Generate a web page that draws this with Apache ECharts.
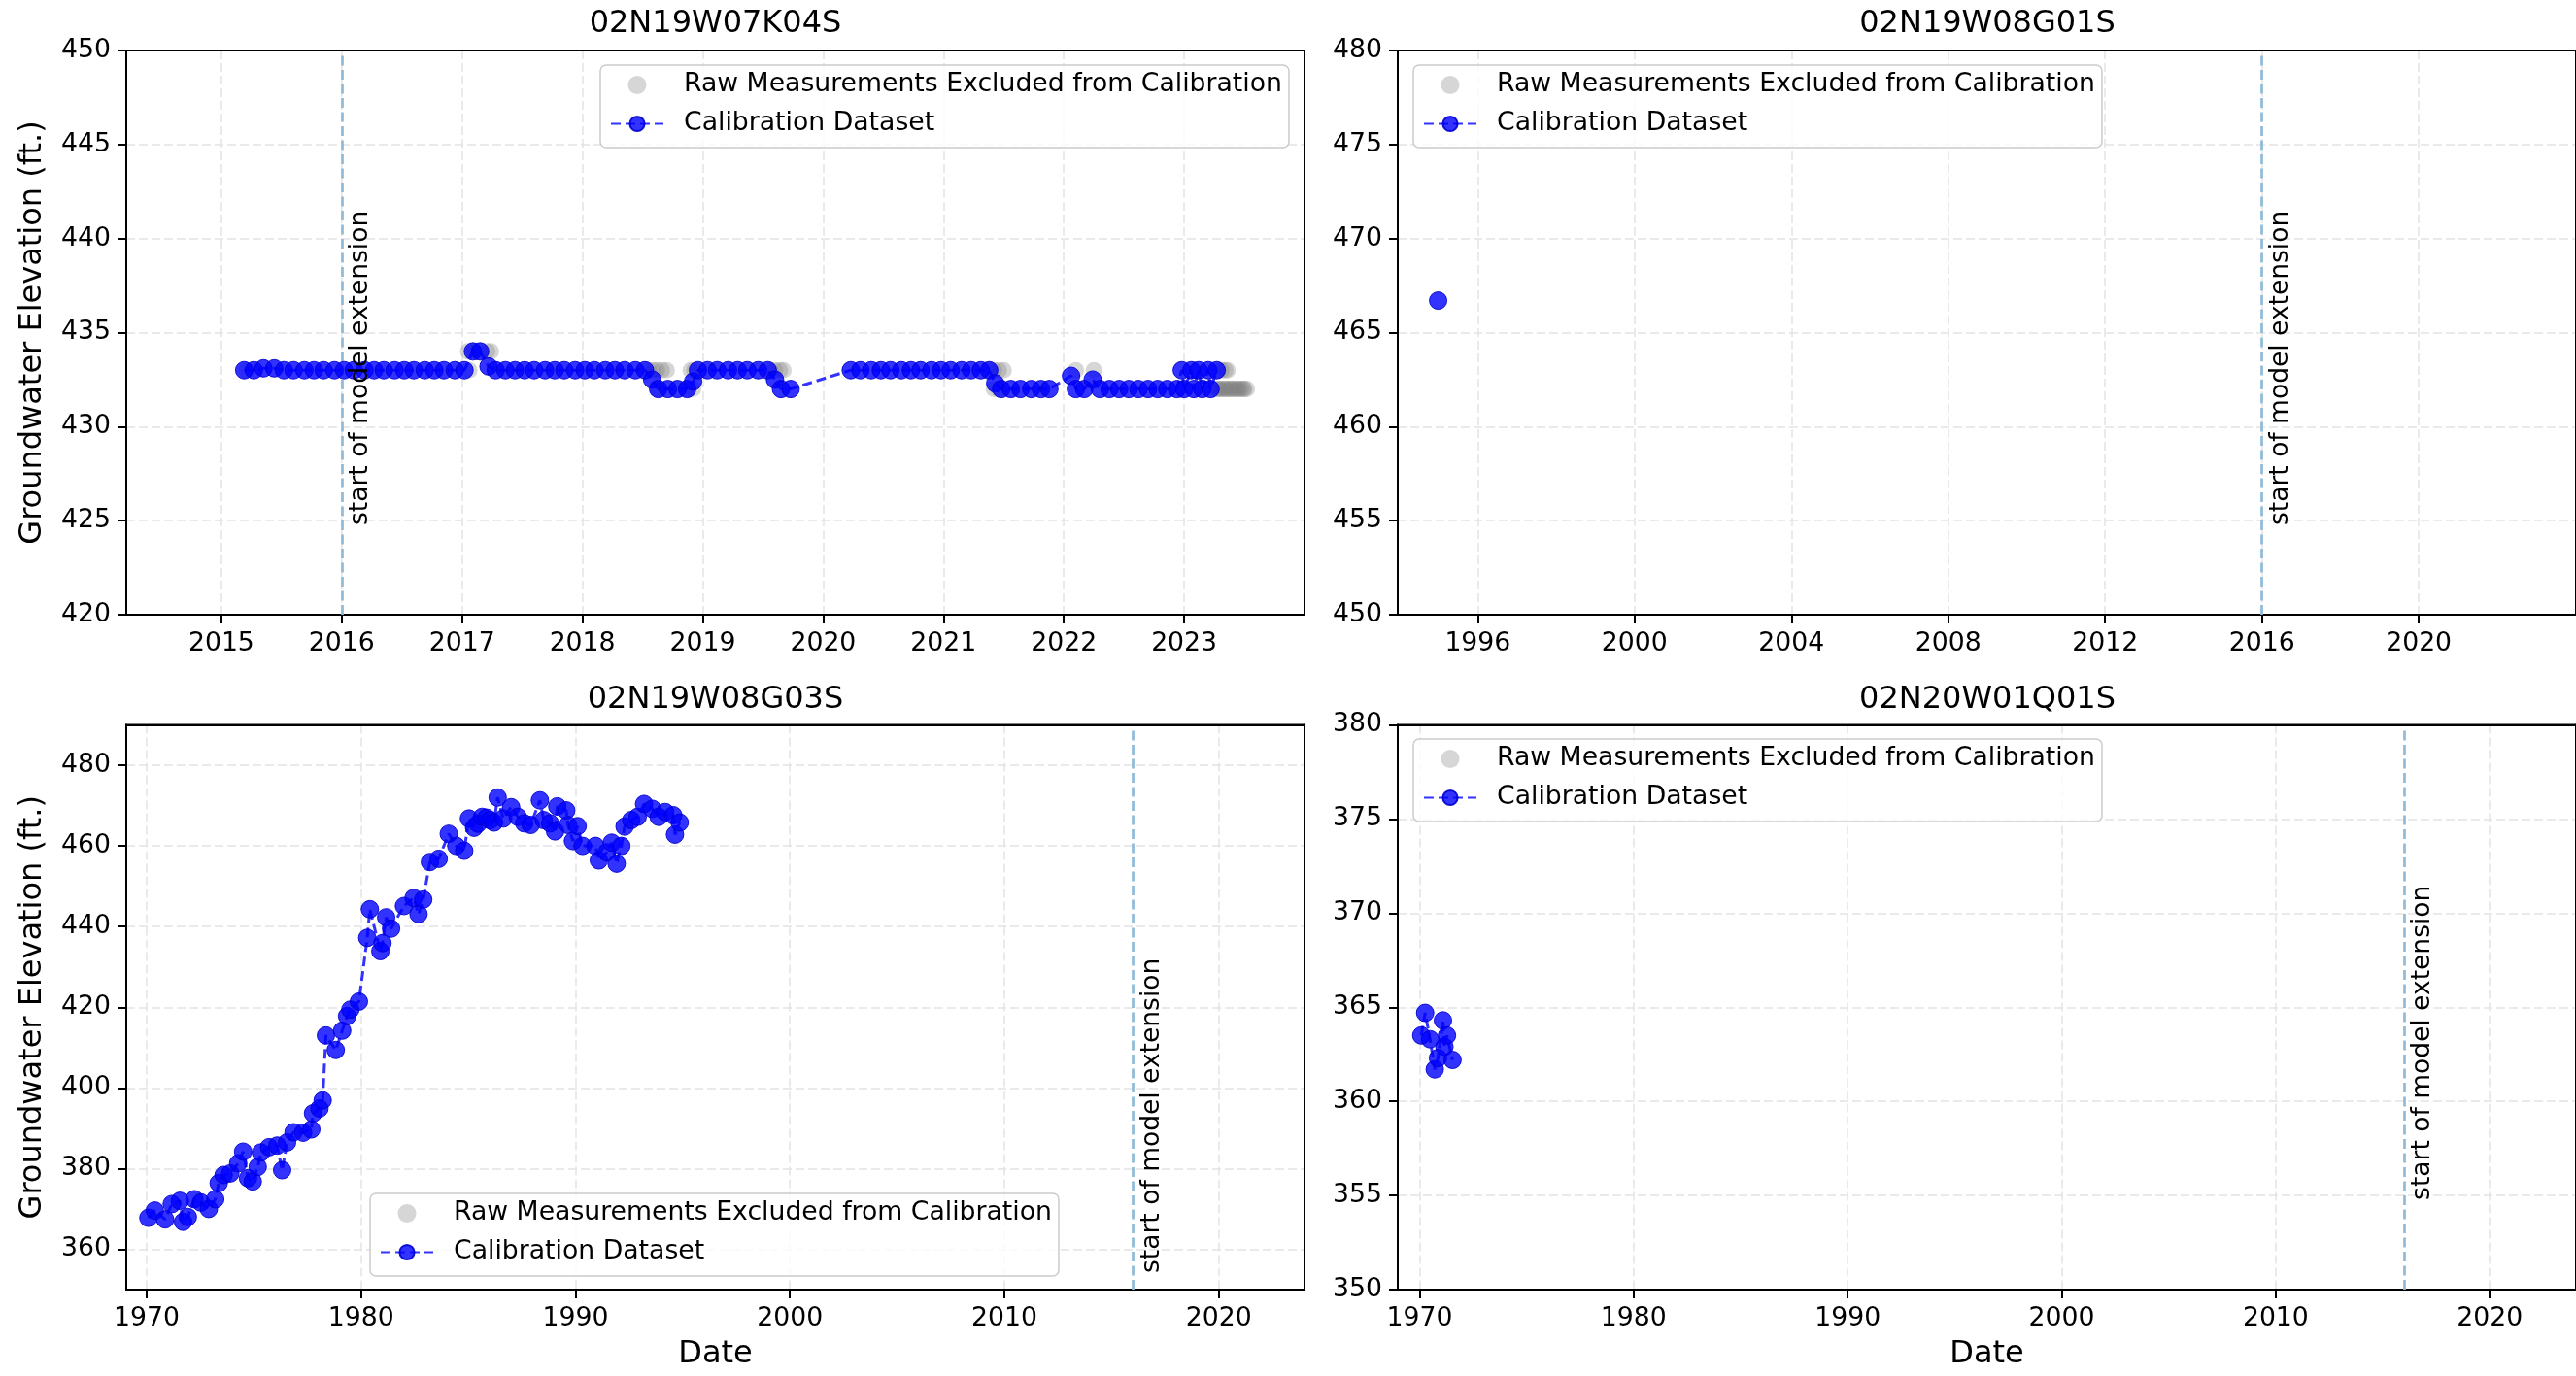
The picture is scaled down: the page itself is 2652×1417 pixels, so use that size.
<!DOCTYPE html>
<html><head><meta charset="utf-8">
<script src="https://cdn.jsdelivr.net/npm/echarts@6/dist/echarts.min.js"></script>
<style>html,body{margin:0;padding:0;background:#fff}#c{width:2652px;height:1417px}</style>
</head><body><div id="c"></div>
<script>
// ---------------- DATA ----------------
const wellNames = ['02N19W07K04S', '02N19W08G01S', '02N19W08G03S', '02N20W01Q01S'];
const RAW = 'Raw Measurements Excluded from Calibration';
const CAL = 'Calibration Dataset';
const extensionYear = 2016;
const extensionLabel = 'start of model extension';

// Panel 1: 02N19W07K04S
const k04CalYears = [2015.19,2015.27,2015.35,2015.44,2015.52,2015.60,2015.69,2015.77,2015.85,2015.94,2016.02,2016.10,2016.19,2016.27,2016.35,2016.44,2016.52,2016.60,2016.69,2016.77,2016.85,2016.94,2017.02,2017.09,2017.15,2017.22,2017.28,2017.36,2017.44,2017.52,2017.60,2017.69,2017.77,2017.85,2017.94,2018.02,2018.10,2018.19,2018.27,2018.35,2018.44,2018.52,2018.58,2018.63,2018.71,2018.79,2018.87,2018.92,2018.96,2019.04,2019.12,2019.21,2019.29,2019.37,2019.46,2019.54,2019.60,2019.65,2019.73,2020.23,2020.31,2020.40,2020.48,2020.56,2020.65,2020.73,2020.81,2020.90,2020.98,2021.06,2021.15,2021.23,2021.31,2021.38,2021.43,2021.48,2021.56,2021.64,2021.73,2021.81,2021.88,2022.06,2022.10,2022.17,2022.24,2022.30,2022.38,2022.46,2022.54,2022.62,2022.70,2022.78,2022.86,2022.94,2022.98,2023.00,2023.06,2023.08,2023.12,2023.15,2023.20,2023.22,2023.27];
const k04CalValues = [433,433,433.1,433.1,433,433,433,433,433,433,433,433,433,433,433,433,433,433,433,433,433,433,433,434,434,433.2,433,433,433,433,433,433,433,433,433,433,433,433,433,433,433,433,432.5,432,432,432,432,432.4,433,433,433,433,433,433,433,433,432.5,432,432,433,433,433,433,433,433,433,433,433,433,433,433,433,433,433,432.3,432,432,432,432,432,432,432.7,432,432,432.5,432,432,432,432,432,432,432,432,432,433,432,433,432,433,432,433,432,433];
const k04RawYears = [2015.21,2017.06,2017.05,2017.10,2017.16,2017.21,2017.24,2018.55,2018.59,2018.62,2018.66,2018.70,2018.62,2018.88,2018.92,2018.90,2018.93,2019.56,2019.60,2019.64,2019.67,2021.38,2021.42,2021.46,2021.50,2021.42,2021.46,2022.10,2022.25,2023.28,2023.31,2023.34,2023.36,2023.27,2023.29,2023.30,2023.32,2023.34,2023.35,2023.37,2023.39,2023.40,2023.42,2023.44,2023.45,2023.47,2023.49,2023.50,2023.52];
const k04RawValues = [433,433,434,434,434,434,434,433,433,433,433,433,432,432,432,433,433,433,433,433,433,433,433,433,433,432,432,433,433,433,433,433,433,432,432,432,432,432,432,432,432,432,432,432,432,432,432,432,432];

// Panel 2: 02N19W08G01S
const g01CalYears = [1994.99];
const g01CalValues = [466.7];
const g01RawYears = [];
const g01RawValues = [];

// Panel 3: 02N19W08G03S
const g03CalYears = [1970.08,1970.38,1970.86,1971.17,1971.55,1971.70,1971.92,1972.23,1972.53,1972.90,1973.20,1973.36,1973.59,1973.90,1974.27,1974.50,1974.73,1974.95,1975.18,1975.33,1975.71,1976.09,1976.32,1976.55,1976.85,1977.30,1977.68,1977.76,1978.06,1978.21,1978.36,1978.82,1979.12,1979.35,1979.50,1979.90,1980.29,1980.41,1980.90,1981.00,1981.17,1981.40,1982.00,1982.45,1982.68,1982.90,1983.21,1983.62,1984.09,1984.44,1984.81,1985.03,1985.27,1985.45,1985.65,1985.85,1986.02,1986.20,1986.37,1986.63,1987.00,1987.31,1987.61,1987.91,1988.34,1988.52,1988.82,1989.05,1989.15,1989.57,1989.65,1989.88,1990.10,1990.33,1990.93,1991.09,1991.46,1991.69,1991.92,1992.14,1992.29,1992.60,1992.90,1993.20,1993.58,1993.88,1994.18,1994.56,1994.64,1994.86];
const g03CalValues = [367.8,369.6,367.4,371.2,372.0,366.8,368.0,372.4,371.6,370.0,372.4,376.4,378.4,378.8,381.3,384.2,377.6,376.8,380.4,384.0,385.3,385.7,379.6,386.5,389.0,388.9,389.7,393.7,394.9,396.9,413.0,409.4,414.2,417.8,419.4,421.4,437.2,444.3,433.9,435.9,442.3,439.5,445.1,447.1,443.1,446.7,456.0,456.8,463.0,460.0,458.8,466.8,464.5,465.5,467.2,467.0,466.4,465.8,472.0,466.8,469.6,467.2,465.6,465.2,471.3,466.4,465.6,463.6,469.8,468.8,465.2,461.2,464.9,460.0,460.0,456.4,458.4,460.8,455.6,460.0,464.8,466.4,467.2,470.4,469.2,467.2,468.4,467.6,462.8,465.8];
const g03RawYears = [];
const g03RawValues = [];

// Panel 4: 02N20W01Q01S
const q01CalYears = [1970.08,1970.26,1970.49,1970.71,1970.86,1971.09,1971.16,1971.28,1971.54];
const q01CalValues = [363.5,364.7,363.3,361.7,362.3,364.3,362.9,363.5,362.2];
const q01RawYears = [];
const q01RawValues = [];

// Axis ranges and tick labels
const xRanges = [[2014.21, 2024.0], [1993.96, 2024.01], [1969.05, 2024.0], [1968.98, 2024.03]];
const yRanges = [[420, 450], [450, 480], [350, 490], [350, 380]];
const xTicks1 = [2015, 2016, 2017, 2018, 2019, 2020, 2021, 2022, 2023];
const xTicks2 = [1996, 2000, 2004, 2008, 2012, 2016, 2020];
const xTicks34 = [1970, 1980, 1990, 2000, 2010, 2020];
const yTicks1 = [420, 425, 430, 435, 440, 445, 450];
const yTicks2 = [450, 455, 460, 465, 470, 475, 480];
const yTicks3 = [360, 380, 400, 420, 440, 460, 480];
const yTicks4 = [350, 355, 360, 365, 370, 375, 380];
const labelYs = [424.75, 454.75, 354.1, 354.75];

// ---------------- LAYOUT / STYLE ----------------
const FONT = 'DejaVu Sans';
const zip = (a, b) => a.map((v, i) => [v, b[i]]);
const panels = [
  {name: wellNames[0], cal: zip(k04CalYears, k04CalValues), raw: zip(k04RawYears, k04RawValues), xt: xTicks1, yt: yTicks1,
   grid: {left: 130, top: 52, width: 1213, height: 581}, titleX: 736.5, titleTop: 9, legend: {left: 618, top: 67}, yName: true, xName: false},
  {name: wellNames[1], cal: zip(g01CalYears, g01CalValues), raw: zip(g01RawYears, g01RawValues), xt: xTicks2, yt: yTicks2,
   grid: {left: 1439, top: 52, width: 1214, height: 581}, titleX: 2046, titleTop: 9, legend: {left: 1455, top: 67}, yName: false, xName: false},
  {name: wellNames[2], cal: zip(g03CalYears, g03CalValues), raw: zip(g03RawYears, g03RawValues), xt: xTicks34, yt: yTicks3,
   grid: {left: 130, top: 746.5, width: 1213, height: 581.5}, titleX: 736.5, titleTop: 705, legend: {left: 381, top: 1229}, yName: true, xName: true},
  {name: wellNames[3], cal: zip(q01CalYears, q01CalValues), raw: zip(q01RawYears, q01RawValues), xt: xTicks34, yt: yTicks4,
   grid: {left: 1439, top: 746.5, width: 1214, height: 581.5}, titleX: 2046, titleTop: 705, legend: {left: 1455, top: 761}, yName: false, xName: true}
];

const gridLine = {show: true, lineStyle: {color: '#e3e3e3', width: 1.5, type: [9, 4]}};
const axisLineStyle = {show: true, onZero: false, lineStyle: {color: '#000', width: 2}};
const option = {
  animation: false,
  backgroundColor: '#fff',
  title: [], grid: [], xAxis: [], yAxis: [], legend: [], series: []
};

panels.forEach((p, i) => {
  option.title.push({text: p.name, left: p.titleX, top: p.titleTop, textAlign: 'center', padding: 0,
    textStyle: {fontFamily: FONT, fontSize: 32, fontWeight: 'normal', color: '#000', lineHeight: 32}});
  option.grid.push(Object.assign({show: true, borderColor: '#000', borderWidth: 2, backgroundColor: 'rgba(0,0,0,0)'}, p.grid));
  option.xAxis.push({
    gridIndex: i, type: 'value', position: 'bottom', min: xRanges[i][0], max: xRanges[i][1],
    axisLine: axisLineStyle,
    axisTick: {show: true, length: 9, lineStyle: {color: '#000', width: 2}, customValues: p.xt},
    axisLabel: {customValues: p.xt, formatter: v => String(Math.round(v)), fontFamily: FONT, fontSize: 26.7, color: '#000', margin: 17, lineHeight: 27},
    splitLine: gridLine, minorTick: {show: false},
    name: p.xName ? 'Date' : '', nameLocation: 'middle', nameGap: 51,
    nameTextStyle: {fontFamily: FONT, fontSize: 32, color: '#000', lineHeight: 32}
  });
  option.yAxis.push({
    gridIndex: i, type: 'value', position: 'left', min: yRanges[i][0], max: yRanges[i][1],
    axisLine: axisLineStyle,
    axisTick: {show: true, length: 9, lineStyle: {color: '#000', width: 2}, customValues: p.yt},
    axisLabel: {customValues: p.yt, formatter: v => String(v), fontFamily: FONT, fontSize: 26.7, color: '#000', margin: 16},
    splitLine: gridLine,
    name: p.yName ? 'Groundwater Elevation (ft.)' : '', nameLocation: 'middle', nameGap: 80,
    nameTextStyle: {fontFamily: FONT, fontSize: 32, color: '#000', lineHeight: 32}
  });
  option.legend.push({
    orient: 'vertical', left: p.legend.left, top: p.legend.top, data: [RAW, CAL], selectedMode: false,
    itemWidth: 54, itemHeight: 19, itemGap: 13, padding: [7, 7, 11, 10],
    backgroundColor: 'rgba(255,255,255,0.8)', borderColor: '#cccccc', borderWidth: 1.5, borderRadius: 6,
    textStyle: {fontFamily: FONT, fontSize: 26.7, color: '#000', lineHeight: 27, padding: [0, 0, 0, 16]}
  });
  option.series.push({
    type: 'scatter', name: RAW, xAxisIndex: i, yAxisIndex: i, data: p.raw, z: 2,
    symbol: 'circle', symbolSize: 17, itemStyle: {color: 'rgba(128,128,128,0.4)'},
    emphasis: {disabled: true}, silent: true,
    markLine: {silent: true, z: 1, symbol: ['none', 'none'], label: {show: false},
      lineStyle: {color: '#8fbbd9', width: 2.7, type: [10, 4.5]},
      data: [{xAxis: extensionYear}]}
  });
  option.series.push({
    type: 'line', name: CAL, xAxisIndex: i, yAxisIndex: i, data: p.cal, z: 3,
    symbol: 'circle', symbolSize: 18, showSymbol: true, showAllSymbol: true,
    itemStyle: {color: 'rgba(0,0,255,0.8)', borderColor: 'rgba(0,0,210,0.9)', borderWidth: 1},
    lineStyle: {color: 'rgba(0,0,255,0.8)', width: 3, type: [10, 5]},
    emphasis: {disabled: true}, silent: true,
    markLine: {silent: true, z: 10, symbol: ['none', 'none'],
      lineStyle: {color: 'rgba(0,0,0,0)', width: 1},
      label: {show: true, position: 'insideStartBottom', formatter: extensionLabel,
        fontFamily: FONT, fontSize: 26.5, color: '#000', distance: [0, 6]},
      data: [[{coord: [extensionYear, labelYs[i]]}, {coord: [extensionYear, yRanges[i][1]]}]]}
  });
});

// frame axes (top and right spines)
panels.forEach((p, i) => {
  option.xAxis.push({gridIndex: i, type: 'value', position: 'top', min: xRanges[i][0], max: xRanges[i][1],
    axisLine: axisLineStyle, axisTick: {show: false}, axisLabel: {show: false}, splitLine: {show: false}, z: 5});
  option.yAxis.push({gridIndex: i, type: 'value', position: 'right', min: yRanges[i][0], max: yRanges[i][1],
    axisLine: axisLineStyle, axisTick: {show: false}, axisLabel: {show: false}, splitLine: {show: false}, z: 5});
});

const chart = echarts.init(document.getElementById('c'), null, {renderer: 'canvas'});
chart.setOption(option);
</script></body></html>
